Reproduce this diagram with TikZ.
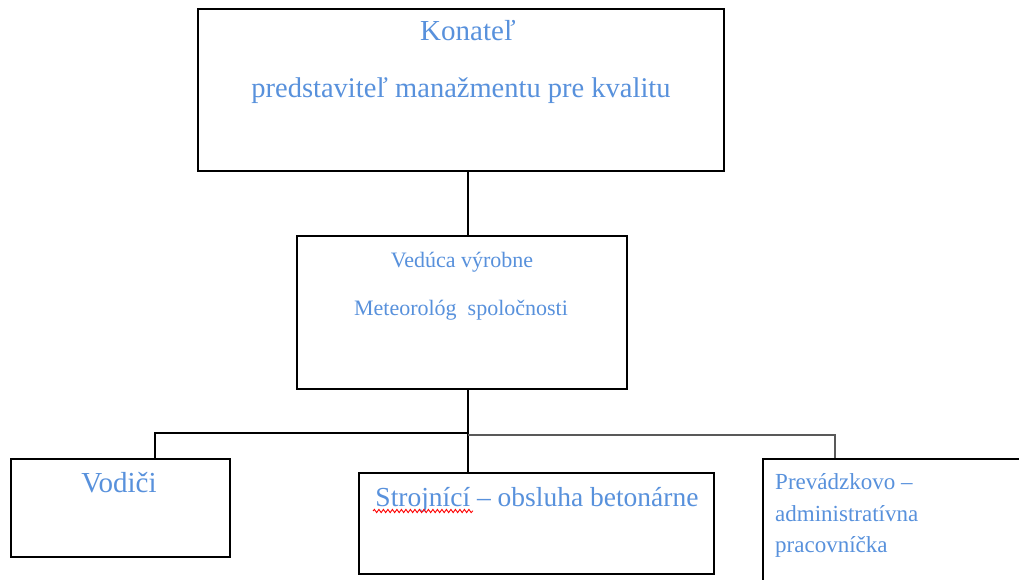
\documentclass[tikz,border=0pt]{standalone}
\usepackage{fontspec}
\setmainfont{Liberation Serif}
\usetikzlibrary{decorations.pathmorphing}
\definecolor{txtblue}{RGB}{88,145,220}
\begin{document}
\begin{tikzpicture}[x=1pt,y=-1pt,
  box/.style={draw=black, line width=1.8pt, rectangle, inner sep=0pt, anchor=north west},
  txt/.style={text=txtblue, inner sep=0pt, anchor=base},
  conn/.style={draw=black, line width=1.8pt},
  conngray/.style={draw=black!65, line width=2pt}]
\useasboundingbox (0,0) rectangle (1019,580);
\fill[white] (0,0) rectangle (1019,580);
% boxes
\node[box, minimum width=526pt, minimum height=162pt] (top) at (197,8) {};
\node[box, minimum width=330pt, minimum height=153pt] (mid) at (296,235) {};
\node[box, minimum width=219pt, minimum height=98pt] (vod) at (10,458) {};
\node[box, minimum width=355pt, minimum height=101pt] (stroj) at (358,472) {};
\node[box, minimum width=300pt, minimum height=160pt] (prev) at (762,458) {};
% texts
\node[txt, font=\fontsize{29}{35}\selectfont] (t1) at (468,41) {Konateľ};
\node[txt, font=\fontsize{28.5}{34}\selectfont] (t2) at (461,98) {predstaviteľ manažmentu pre kvalitu};
\node[txt, font=\fontsize{22}{26}\selectfont] (m1) at (462,267) {Vedúca výrobne};
\node[txt, font=\fontsize{22}{26}\selectfont] (m2) at (461,315) {Meteorológ\ \ spoločnosti};
\node[txt, font=\fontsize{29}{34}\selectfont] (v1) at (119,492) {Vodiči};
\node[txt, font=\fontsize{27.5}{32}\selectfont] (s1) at (537,506) {Strojnící – obsluha betonárne};
\node[txt, anchor=base west, font=\fontsize{23}{28}\selectfont] (p1) at (775,489) {Prevádzkovo –};
\node[txt, anchor=base west, font=\fontsize{23}{28}\selectfont] (p2) at (775,521) {administratívna};
\node[txt, anchor=base west, font=\fontsize{23}{28}\selectfont] (p3) at (775,552) {pracovníčka};
% spell-check underline
\draw[red, line width=0.9pt, decorate, decoration={snake, amplitude=1.6pt, segment length=4.5pt}] (373,511) -- (473,511);
% connectors
\coordinate (tx) at (468,0);
\coordinate (busL) at (155,433);
\coordinate (busM) at (468,433);
\coordinate (busR) at (835,435);
\draw[conn] (tx |- top.south) -- (tx |- mid.north);
\draw[conn] (tx |- mid.south) -- (busM);
\draw[conn] (busL |- vod.north) -- (busL) -- (busM);
\draw[conn] (busM) -- (busM |- stroj.north);
\draw[conngray] (busM |- busR) -- (busR) -- (busR |- prev.north);
\end{tikzpicture}
\end{document}
